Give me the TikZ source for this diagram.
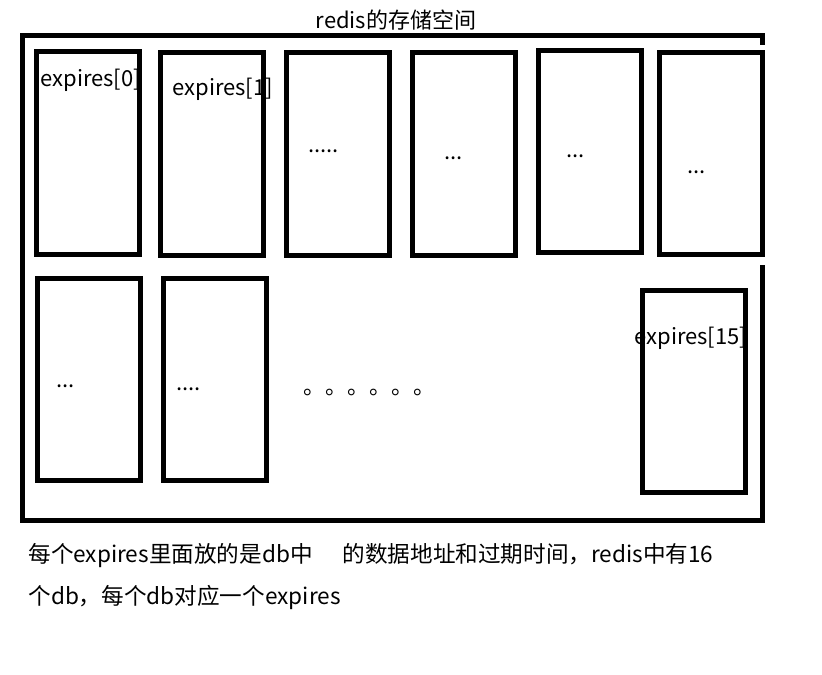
\documentclass[tikz,border=0pt]{standalone}
\usepackage{fontspec}
\setmainfont{Noto Sans CJK SC}
\usetikzlibrary{positioning}
\tikzset{
	expbox/.style={
		draw,
		line width=2.5pt,
		minimum width=51.5pt,
		minimum height=101pt,
		inner sep=0pt
	},
	storeFrame/.style={line width=2.5pt},
	expLabel/.style={anchor=west, inner sep=0pt, font=\fontsize{11}{13}\selectfont},
	dotLabel/.style={anchor=base west, inner sep=0pt, font=\fontsize{11}{13}\selectfont},
	noteText/.style={anchor=west, inner sep=0pt, font=\fontsize{11.3}{13}\selectfont}
}

\begin{document}
\begin{tikzpicture}[x=0.5pt, y=-0.5pt]
	\useasboundingbox (0,0) rectangle (822,674);

	% Storage frame (right side left open)
	\draw[storeFrame] (762.5,45) -- (762.5,35.5) -- (22.5,35.5) -- (22.5,520) -- (762.5,520) -- (762.5,265);
	\node[font=\fontsize{11}{13}\selectfont] (title) at (396,20) {redis的存储空间};

	% Top row of expires
	\node[expbox] (exp0) at (87.5,153) {};
	\node[expbox] (exp1) at (211.5,154) {};
	\node[expbox] (exp2) at (337.5,154) {};
	\node[expbox] (exp3) at (463.5,154) {};
	\node[expbox] (exp4) at (589.5,151.5) {};
	\node[expbox] (exp5) at (710.5,153.5) {};

	% Bottom row of expires
	\node[expbox] (exp6) at (88.5,379.5) {};
	\node[expbox] (exp7) at (214.5,379.5) {};
	\node[expbox] (exp15) at (693.5,391.5) {};

	% Labels
	\node[expLabel] (lab0) at (40,80) {expires[0]};
	\node[expLabel] (lab1) at (172,89) {expires[1]};
	\node[expLabel] (lab15) at (634,338) {expires[15]};

	\node[dotLabel] (dots2) at (308,152) {.....};
	\node[dotLabel] (dots3) at (444,159) {...};
	\node[dotLabel] (dots4) at (566,157) {...};
	\node[dotLabel] (dots5) at (687,173) {...};
	\node[dotLabel] (dots6) at (56,387) {...};
	\node[dotLabel] (dots7) at (176,390) {....};
	\node[dotLabel] (circles) at (303,394) {。。。。。。};

	% Note below
	\node[noteText] (note1) at (28,556) {每个expires里面放的是db中\hspace{15pt}的数据地址和过期时间，redis中有16};
	\node[noteText] (note2) at (28,597) {个db，每个db对应一个expires};

\end{tikzpicture}
\end{document}
